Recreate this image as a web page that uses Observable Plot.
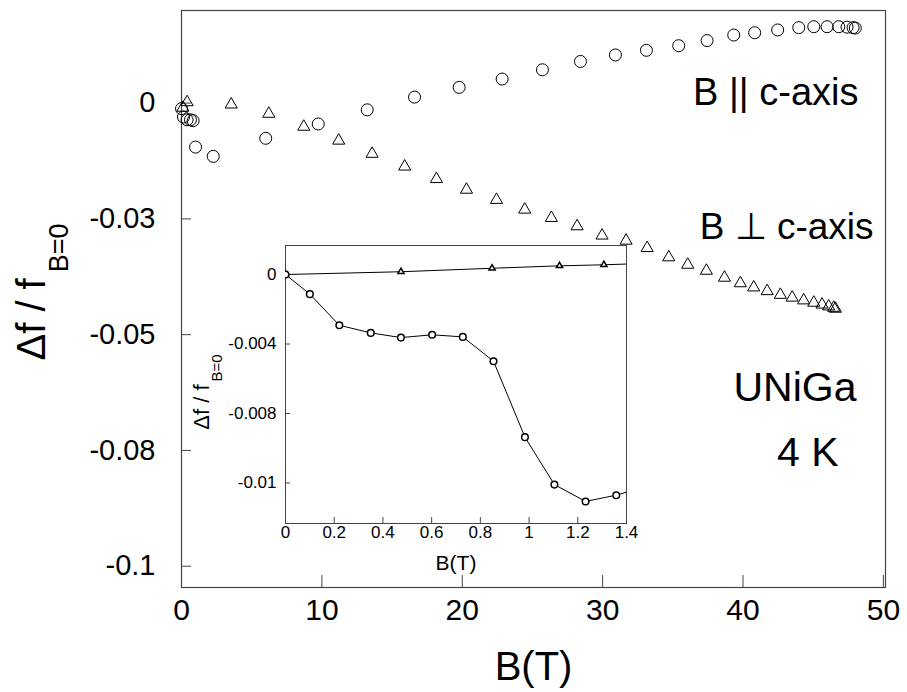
<!DOCTYPE html>
<html>
<head>
<meta charset="utf-8">
<script src="https://cdn.jsdelivr.net/npm/d3@7"></script>
<script src="https://cdn.jsdelivr.net/npm/@observablehq/plot@0.6"></script>
<style>
  html, body { margin: 0; padding: 0; background: white; }
  #wrap { position: relative; width: 907px; height: 692px; }
</style>
</head>
<body>
<div id="wrap"></div>
<script>
// ---------- main chart data ----------
const parB  = [0, 0.14, 0.4, 0.64, 0.83, 1.0, 2.26, 6.0, 9.74, 13.23, 16.6, 19.78, 22.84, 25.71, 28.42, 30.91, 33.12, 35.42, 37.44, 39.34, 40.83, 42.47, 43.97, 45.04, 45.99, 46.82, 47.41, 47.84, 48.0];
const parDf = [-0.0012, -0.0030, -0.0036, -0.0036, -0.0038, -0.0095, -0.0115, -0.0076, -0.0045, -0.00145, 0.0013, 0.0034, 0.0052, 0.0072, 0.0090, 0.0104, 0.0114, 0.0124, 0.0135, 0.0147, 0.0152, 0.0158, 0.0163, 0.0165, 0.0165, 0.0165, 0.0164, 0.0163, 0.0162];

const perpB  = [0.1, 0.4, 3.54, 6.22, 8.71, 11.2, 13.58, 15.9, 18.16, 20.3, 22.44, 24.45, 26.35, 28.18, 29.96, 31.67, 33.17, 34.71, 36.06, 37.39, 38.68, 39.81, 40.76, 41.72, 42.66, 43.5, 44.32, 45.04, 45.63, 46.1, 46.46, 46.58];
const perpDf = [-0.001, 0.0002, -0.0003, -0.0023, -0.0051, -0.0081, -0.01095, -0.0137, -0.0164, -0.0187, -0.0209, -0.0230, -0.0248, -0.0266, -0.0286, -0.0297, -0.0313, -0.0333, -0.0349, -0.0362, -0.0377, -0.0389, -0.0398, -0.0406, -0.0414, -0.0420, -0.0426, -0.0431, -0.0435, -0.0439, -0.0442, -0.0444];

const xTicks = [0, 10, 20, 30, 40, 50];
const yTicks = [0, -0.025, -0.05, -0.075, -0.1];
const yTickLabels = ["0", "-0.03", "-0.05", "-0.08", "-0.1"];

// ---------- inset data ----------
const inParB  = [0, 0.1, 0.221, 0.35, 0.474, 0.602, 0.728, 0.854, 0.983, 1.104, 1.232, 1.358, 1.48];
const inParDf = [0, -0.00113, -0.00292, -0.00336, -0.00363, -0.00347, -0.00359, -0.00499, -0.00936, -0.01209, -0.01306, -0.0127, -0.0122];
const inPerpB  = [0, 0.474, 0.848, 1.125, 1.307, 1.48];
const inPerpDf = [0, 0.00016, 0.00036, 0.0005, 0.00056, 0.00064];

const inXTicks = [0, 0.2, 0.4, 0.6, 0.8, 1.0, 1.2, 1.4];
const inXTickLabels = ["0", "0.2", "0.4", "0.6", "0.8", "1", "1.2", "1.4"];
const inYTicks = [0, -0.004, -0.008, -0.012];
const inYTickLabels = ["0", "-0.004", "-0.008", "-0.01"];

const FONT = "'Liberation Sans', Arial, Helvetica, sans-serif";
const par = parB.map((b, i) => ({B: b, df: parDf[i]}));
const perp = perpB.map((b, i) => ({B: b, df: perpDf[i]}));
const inPar = inParB.map((b, i) => ({B: b, df: inParDf[i]}));
const inPerp = inPerpB.map((b, i) => ({B: b, df: inPerpDf[i]}));

// ---------- main plot ----------
const W = 907, H = 692, mL = 181, mR = 22, mT = 10, mB = 105;
const pw = W - mL - mR, ph = H - mT - mB;
const frameColor = "#444";

const main = Plot.plot({
  width: W, height: H,
  marginLeft: mL, marginRight: mR, marginTop: mT, marginBottom: mB,
  style: {fontFamily: FONT, background: "white", color: "black"},
  x: {domain: [0, 50.15], axis: null},
  y: {domain: [-0.1046, 0.02], axis: null},
  marks: [
    Plot.frame({stroke: frameColor, strokeWidth: 1.2}),
    Plot.tickX(xTicks, {x: d => d, insetTop: ph - 12, stroke: frameColor}),
    Plot.tickY(yTicks, {y: d => d, insetRight: pw - 10, stroke: frameColor}),
    Plot.text(xTicks, {x: d => d, text: d => String(d), frameAnchor: "bottom", dy: 32, fontSize: 30, fill: "black"}),
    Plot.text(yTicks, {y: d => d, text: (d, i) => yTickLabels[i], frameAnchor: "left", dx: -26, textAnchor: "end", fontSize: 29, fill: "black"}),
    Plot.dot(par, {x: "B", y: "df", r: 6, stroke: "black", strokeWidth: 1, fill: "none"}),
    Plot.dot(perp, {x: "B", y: "df", symbol: "triangle", r: 4.5, stroke: "black", strokeWidth: 1, fill: "none"}),
    Plot.text(["B || c-axis"], {text: d => d, frameAnchor: "top-right", dx: -27, dy: 94, lineAnchor: "bottom", textAnchor: "end", fontSize: 38, fill: "black"}),
    Plot.text(["B \u22A5 c-axis"], {text: d => d, frameAnchor: "top-right", dx: -12, dy: 228, lineAnchor: "bottom", textAnchor: "end", fontSize: 37, fill: "black"}),
    Plot.text(["UNiGa"], {text: d => d, frameAnchor: "top-right", dx: -29, dy: 390, lineAnchor: "bottom", textAnchor: "end", fontSize: 41, fill: "black"}),
    Plot.text(["4 K"], {text: d => d, frameAnchor: "top-right", dx: -47, dy: 455, lineAnchor: "bottom", textAnchor: "end", fontSize: 41, fill: "black"}),
    Plot.text(["B(T)"], {text: d => d, frameAnchor: "bottom", dy: 92, lineAnchor: "bottom", fontSize: 40, fill: "black"})
  ]
});

// main y label with subscript
{
  const t = d3.select(main).append("text")
    .attr("transform", "translate(45,292) rotate(-90)")
    .attr("text-anchor", "middle")
    .attr("font-family", FONT)
    .attr("fill", "black");
  t.append("tspan").attr("font-size", 40).text("\u0394f / f");
  t.append("tspan").attr("font-size", 27).attr("dx", 6).attr("dy", 23).text("B=0");
}

// ---------- inset ----------
const iL = 180, iT = 235, iW = 460, iH = 345;
const imL = 105, imR = 14, imT = 10, imB = 57;
const ipw = iW - imL - imR, iph = iH - imT - imB;

const inset = Plot.plot({
  width: iW, height: iH,
  marginLeft: imL, marginRight: imR, marginTop: imT, marginBottom: imB,
  style: {fontFamily: FONT, background: "transparent", color: "black"},
  x: {domain: [0, 1.4], axis: null},
  y: {domain: [-0.01433, 0.00167], axis: null},
  marks: [
    Plot.frame({fill: "white", stroke: frameColor, strokeWidth: 1}),
    Plot.tickX(inXTicks, {x: d => d, insetTop: iph - 6, stroke: frameColor}),
    Plot.tickY(inYTicks, {y: d => d, insetRight: ipw - 5, stroke: frameColor}),
    Plot.text(inXTicks, {x: d => d, text: (d, i) => inXTickLabels[i], frameAnchor: "bottom", dy: 14, fontSize: 17, fill: "black"}),
    Plot.text(inYTicks, {y: d => d, text: (d, i) => inYTickLabels[i], frameAnchor: "left", dx: -9, textAnchor: "end", fontSize: 17, fill: "black"}),
    Plot.line(inPerp, {x: "B", y: "df", stroke: "black", strokeWidth: 1, clip: true}),
    Plot.line(inPar, {x: "B", y: "df", stroke: "black", strokeWidth: 1, clip: true}),
    Plot.dot(inPerp, {x: "B", y: "df", symbol: "triangle", r: 2.3, stroke: "black", fill: "white", clip: true}),
    Plot.dot(inPar, {x: "B", y: "df", r: 3.3, stroke: "black", fill: "white", clip: true}),
    Plot.text(["B(T)"], {text: d => d, frameAnchor: "bottom", dy: 46, lineAnchor: "bottom", fontSize: 21, fill: "black"})
  ]
});

{
  const t = d3.select(inset).append("text")
    .attr("transform", `translate(${209 - iL},${392 - iT}) rotate(-90)`)
    .attr("text-anchor", "middle")
    .attr("font-family", FONT)
    .attr("fill", "black");
  t.append("tspan").attr("font-size", 22).text("\u0394f / f");
  t.append("tspan").attr("font-size", 15).attr("dx", 3).attr("dy", 13).text("B=0");
}

const wrap = document.getElementById("wrap");
main.style.position = "absolute";
main.style.left = "0px";
main.style.top = "0px";
wrap.appendChild(main);
inset.style.position = "absolute";
inset.style.left = iL + "px";
inset.style.top = iT + "px";
inset.style.overflow = "visible";
wrap.appendChild(inset);
</script>
</body>
</html>
